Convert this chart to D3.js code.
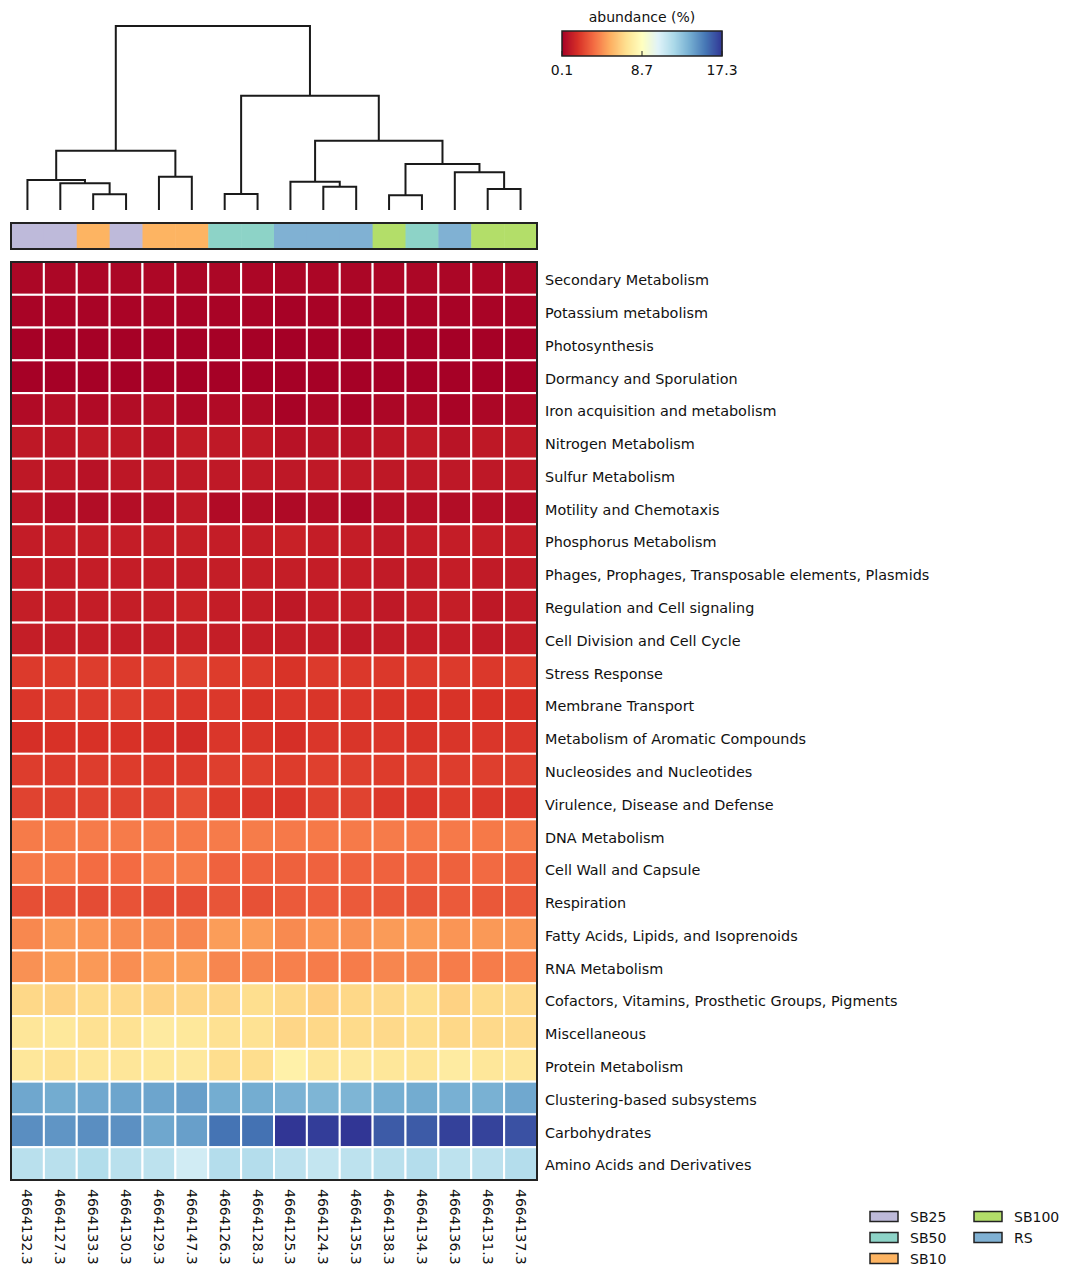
<!DOCTYPE html>
<html>
<head>
<meta charset="utf-8">
<script src="https://cdn.jsdelivr.net/npm/d3@7"></script>
<style>
  html, body { margin: 0; padding: 0; background: #fff; }
  svg { display: block; }
  text { font-family: "DejaVu Sans", sans-serif; fill: #111; }
</style>
</head>
<body>
<svg id="chart" width="1073" height="1266"></svg>
<script>
// ---------------- DATA ----------------
const sampleIds = ["4664132.3","4664127.3","4664133.3","4664130.3","4664129.3","4664147.3","4664126.3","4664128.3",
                   "4664125.3","4664124.3","4664135.3","4664138.3","4664134.3","4664136.3","4664131.3","4664137.3"];
const sampleGroups = ["SB25","SB25","SB10","SB25","SB10","SB10","SB50","SB50",
                      "RS","RS","RS","SB100","SB50","RS","SB100","SB100"];
const groupNames = ["SB25","SB50","SB10","SB100","RS"];
const groupColors = ["#bebada","#8dd3c7","#fdb462","#b3de69","#80b1d3"];

const subsystems = [
  "Secondary Metabolism","Potassium metabolism","Photosynthesis","Dormancy and Sporulation",
  "Iron acquisition and metabolism","Nitrogen Metabolism","Sulfur Metabolism","Motility and Chemotaxis",
  "Phosphorus Metabolism","Phages, Prophages, Transposable elements, Plasmids","Regulation and Cell signaling",
  "Cell Division and Cell Cycle","Stress Response","Membrane Transport","Metabolism of Aromatic Compounds",
  "Nucleosides and Nucleotides","Virulence, Disease and Defense","DNA Metabolism","Cell Wall and Capsule",
  "Respiration","Fatty Acids, Lipids, and Isoprenoids","RNA Metabolism",
  "Cofactors, Vitamins, Prosthetic Groups, Pigments","Miscellaneous","Protein Metabolism",
  "Clustering-based subsystems","Carbohydrates","Amino Acids and Derivatives"
];

// abundance (%) : one row per subsystem, one value per sample (display order)
const abundance = [
  [0.35,0.35,0.33,0.35,0.36,0.32,0.34,0.33,0.30,0.33,0.31,0.33,0.34,0.32,0.33,0.34],
  [0.25,0.26,0.25,0.26,0.27,0.24,0.24,0.23,0.17,0.22,0.20,0.22,0.24,0.21,0.24,0.25],
  [0.12,0.13,0.12,0.13,0.14,0.12,0.13,0.12,0.10,0.12,0.11,0.12,0.12,0.11,0.12,0.12],
  [0.15,0.15,0.14,0.15,0.16,0.14,0.15,0.14,0.13,0.14,0.13,0.14,0.15,0.14,0.14,0.15],
  [0.50,0.60,0.50,0.55,0.60,0.40,0.50,0.45,0.20,0.35,0.20,0.35,0.40,0.25,0.35,0.40],
  [0.95,0.90,1.00,0.95,0.75,1.05,1.00,1.00,0.75,0.80,0.75,0.90,1.00,0.80,0.95,1.00],
  [0.95,0.90,0.75,0.92,0.97,1.00,1.00,0.98,0.97,1.00,1.00,0.95,0.97,0.96,0.97,0.98],
  [0.90,0.65,0.55,0.60,0.65,1.00,0.50,0.55,0.45,0.55,0.35,0.65,0.65,0.55,0.65,0.60],
  [1.12,1.15,1.13,1.15,1.14,1.20,1.15,1.14,1.30,1.15,1.15,1.00,1.12,1.15,1.15,1.12],
  [1.15,1.10,1.15,1.15,1.13,1.13,1.18,1.18,1.18,1.15,1.15,1.08,1.05,1.15,1.08,1.08],
  [1.18,1.15,1.15,1.18,1.16,1.35,1.15,1.13,0.95,1.12,1.15,1.00,1.15,1.16,0.95,1.08],
  [1.18,1.13,1.16,1.13,1.17,1.25,1.16,1.16,1.18,1.13,0.98,1.10,1.12,1.15,1.08,1.16],
  [2.10,2.15,2.20,2.10,2.20,2.35,2.15,2.10,1.90,2.10,2.05,2.05,2.10,2.10,2.05,2.15],
  [2.00,2.10,2.10,2.20,2.05,2.00,2.05,1.90,2.00,1.95,2.00,1.90,1.85,1.90,1.85,1.85],
  [1.80,1.85,1.85,1.85,1.75,1.65,2.00,1.95,1.80,2.00,1.95,2.00,1.90,1.95,2.00,2.00],
  [2.20,2.10,2.20,2.15,2.05,2.10,2.25,2.28,2.15,2.28,2.25,2.15,2.25,2.20,2.25,2.25],
  [2.35,2.30,2.35,2.35,2.35,2.70,2.15,2.05,2.00,2.30,2.35,2.05,2.00,2.15,2.05,2.00],
  [3.90,3.90,3.92,3.92,3.92,3.88,3.92,3.95,3.87,3.85,3.88,3.92,3.87,3.87,3.85,3.92],
  [3.88,3.85,3.50,3.48,3.88,3.90,3.22,3.22,3.20,3.22,3.22,3.22,3.22,3.20,3.45,3.20],
  [2.70,2.75,2.60,2.80,2.60,2.65,2.85,2.75,3.00,3.10,3.00,2.95,2.85,3.00,2.95,3.00],
  [4.25,4.70,4.60,4.35,4.35,4.20,4.80,4.80,4.30,4.60,4.50,4.75,4.80,4.60,4.70,4.65],
  [4.50,4.80,4.70,4.40,4.80,4.85,4.20,4.20,4.05,3.95,3.95,4.20,4.20,3.95,3.95,4.05],
  [6.70,6.50,6.80,6.75,6.50,6.65,6.65,6.95,6.70,6.40,6.70,6.75,6.95,6.50,6.80,6.75],
  [7.30,7.40,7.05,7.10,7.55,7.40,7.05,7.10,6.65,6.70,6.80,6.75,6.90,6.70,6.75,6.75],
  [7.35,7.10,7.30,7.30,7.40,7.45,6.90,6.90,7.90,7.30,7.45,7.35,7.25,7.60,7.35,7.30],
  [14.05,13.90,14.00,14.10,14.10,14.30,13.85,13.85,13.65,13.55,13.55,13.80,13.90,13.75,13.70,14.00],
  [14.80,14.60,14.80,14.75,14.05,14.30,15.60,15.65,17.30,17.10,17.30,16.30,16.30,17.00,16.95,16.55],
  [11.70,11.70,11.90,11.70,11.55,10.90,11.85,11.85,11.60,11.35,11.55,11.70,11.85,11.55,11.60,11.85]
];

// column dendrogram linkage: [childA, childB, distance]; leaves are 0..15, merges get ids 16..
const linkage = [
  [2, 3, 15.7], [1, 16, 26.7], [0, 17, 30.0], [4, 5, 33.3], [18, 19, 59.3],
  [6, 7, 16.0], [9, 10, 23.3], [8, 22, 28.3], [11, 12, 14.7], [14, 15, 21.0],
  [13, 25, 37.7], [24, 26, 46.0], [23, 27, 69.3], [21, 28, 114.3], [20, 29, 184.0]
];

const colorbarTicks = [0.1, 8.7, 17.3];
const colorbarTitle = "abundance (%)";
const rdylbu = ["#a50026","#d73027","#f46d43","#fdae61","#fee090","#ffffbf","#e0f3f8","#abd9e9","#74add1","#4575b4","#313695"];

// ---------------- LAYOUT ----------------
const svg = d3.select("#chart");
const hm = { x0: 11, x1: 537, y0: 262, y1: 1180 };
const ann = { y0: 223, y1: 249 };
const dendro = { base: 210, top: 26 };

const x = d3.scaleBand().domain(d3.range(sampleIds.length)).range([hm.x0, hm.x1]).padding(0);
const y = d3.scaleBand().domain(d3.range(subsystems.length)).range([hm.y0, hm.y1]).padding(0);

const vmin = colorbarTicks[0], vmax = colorbarTicks[colorbarTicks.length - 1];
const color = d3.scaleLinear()
  .domain(d3.range(rdylbu.length).map(i => vmin + (vmax - vmin) * i / (rdylbu.length - 1)))
  .range(rdylbu)
  .interpolate(d3.interpolateRgb)
  .clamp(true);

// ---------------- HEATMAP ----------------
const cells = [];
abundance.forEach((row, r) => row.forEach((v, c) => cells.push({ r, c, v })));

svg.append("g").selectAll("rect").data(cells).join("rect")
  .attr("x", d => x(d.c))
  .attr("y", d => y(d.r))
  .attr("width", x.bandwidth())
  .attr("height", y.bandwidth())
  .attr("fill", d => color(d.v))
  .attr("stroke", "#fff")
  .attr("stroke-width", 2);

svg.append("rect")
  .attr("x", hm.x0).attr("y", hm.y0)
  .attr("width", hm.x1 - hm.x0).attr("height", hm.y1 - hm.y0)
  .attr("fill", "none").attr("stroke", "#222").attr("stroke-width", 2);

// row labels
svg.append("g").selectAll("text").data(subsystems).join("text")
  .attr("x", hm.x1 + 8)
  .attr("y", (d, i) => y(i) + y.bandwidth() / 2 + 1.8)
  .attr("dominant-baseline", "central")
  .style("font-size", "14.4px")
  .text(d => d);

// column labels (rotated)
svg.append("g").selectAll("text").data(sampleIds).join("text")
  .attr("transform", (d, i) => `translate(${x(i) + x.bandwidth() / 2},${hm.y1 + 9}) rotate(90)`)
  .attr("dominant-baseline", "central")
  .style("font-size", "14px")
  .text(d => d);

// ---------------- ANNOTATION BAR ----------------
const gColor = d3.scaleOrdinal().domain(groupNames).range(groupColors);
svg.append("g").selectAll("rect").data(sampleGroups).join("rect")
  .attr("x", (d, i) => x(i))
  .attr("y", ann.y0)
  .attr("width", x.bandwidth() + 0.5)
  .attr("height", ann.y1 - ann.y0)
  .attr("fill", d => gColor(d));
svg.append("rect")
  .attr("x", hm.x0).attr("y", ann.y0)
  .attr("width", hm.x1 - hm.x0).attr("height", ann.y1 - ann.y0)
  .attr("fill", "none").attr("stroke", "#222").attr("stroke-width", 2);

// ---------------- DENDROGRAM ----------------
const maxH = d3.max(linkage, d => d[2]);
const yd = d3.scaleLinear().domain([0, maxH]).range([dendro.base, dendro.top]);
const nodeX = sampleIds.map((d, i) => x(i) + x.bandwidth() / 2);
const nodeH = sampleIds.map(() => 0);
const links = [];
linkage.forEach(([a, b, h]) => {
  links.push({ xa: nodeX[a], ha: nodeH[a], xb: nodeX[b], hb: nodeH[b], h });
  nodeX.push((nodeX[a] + nodeX[b]) / 2);
  nodeH.push(h);
});
svg.append("g").selectAll("path").data(links).join("path")
  .attr("d", d => `M${d.xa},${yd(d.ha)}V${yd(d.h)}H${d.xb}V${yd(d.hb)}`)
  .attr("fill", "none")
  .attr("stroke", "#1a1a1a")
  .attr("stroke-width", 2);

// ---------------- COLORBAR ----------------
const cb = { x0: 562, x1: 722, y0: 31, y1: 56 };
const cbx = d3.scaleLinear().domain([vmin, vmax]).range([cb.x0, cb.x1]);
const nSteps = 160;
const steps = d3.range(nSteps).map(i => vmin + (vmax - vmin) * (i + 0.5) / nSteps);
svg.append("g").selectAll("rect").data(steps).join("rect")
  .attr("x", (d, i) => cb.x0 + (cb.x1 - cb.x0) * i / nSteps)
  .attr("y", cb.y0)
  .attr("width", (cb.x1 - cb.x0) / nSteps + 0.6)
  .attr("height", cb.y1 - cb.y0)
  .attr("fill", d => color(d));
svg.append("rect")
  .attr("x", cb.x0).attr("y", cb.y0)
  .attr("width", cb.x1 - cb.x0).attr("height", cb.y1 - cb.y0)
  .attr("fill", "none").attr("stroke", "#222").attr("stroke-width", 1.5);
svg.append("g").selectAll("line").data(colorbarTicks).join("line")
  .attr("x1", d => cbx(d)).attr("x2", d => cbx(d))
  .attr("y1", cb.y1 - 5).attr("y2", cb.y1)
  .attr("stroke", "#222").attr("stroke-width", 1);
svg.append("g").selectAll("text").data(colorbarTicks).join("text")
  .attr("x", d => cbx(d))
  .attr("y", cb.y1 + 14)
  .attr("text-anchor", "middle")
  .attr("dominant-baseline", "central")
  .style("font-size", "14px")
  .text(d => d3.format(".1f")(d));
svg.append("text")
  .attr("x", (cb.x0 + cb.x1) / 2)
  .attr("y", cb.y0 - 14)
  .attr("text-anchor", "middle")
  .attr("dominant-baseline", "central")
  .style("font-size", "14px")
  .text(colorbarTitle);

// ---------------- LEGEND ----------------
const lg = { x0: 870, colW: 104, y0: 1216.5, rowH: 21, rows: 3 };
const legendItems = svg.append("g").selectAll("g").data(groupNames).join("g")
  .attr("transform", (d, i) => `translate(${lg.x0 + Math.floor(i / lg.rows) * lg.colW},${lg.y0 + (i % lg.rows) * lg.rowH})`);
legendItems.append("rect")
  .attr("x", 0).attr("y", -5)
  .attr("width", 28).attr("height", 10)
  .attr("fill", d => gColor(d))
  .attr("stroke", "#222").attr("stroke-width", 1.5);
legendItems.append("text")
  .attr("x", 40).attr("y", 0)
  .attr("dominant-baseline", "central")
  .style("font-size", "14px")
  .text(d => d);
</script>
</body>
</html>
